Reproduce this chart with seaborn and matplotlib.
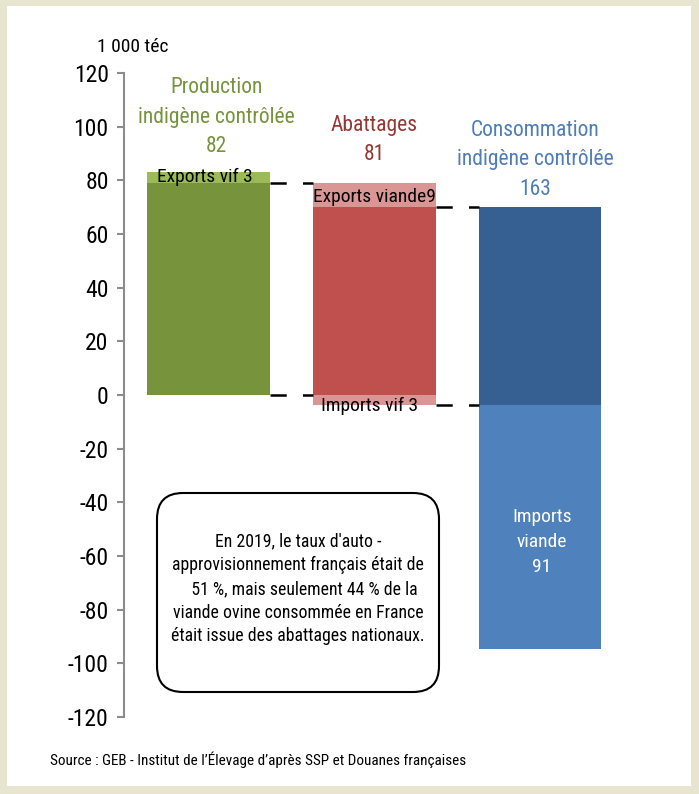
import numpy as np
import pandas as pd
import matplotlib
matplotlib.use("Agg")
import matplotlib.pyplot as plt
import matplotlib.patches as mpatches
import matplotlib.transforms as mtransforms
from matplotlib import font_manager
import seaborn as sns

# ---- data (1 000 téc) ----
categories = ["Production", "Abattages", "Consommation"]
production_net = 79      # dark green
exports_vif = 4          # light green on top (labelled 3)
imports_vif = 3.7        # pink below zero (abattages, labelled 3)
abattages_net = 70       # red
exports_viande = 9       # pink on top of red
imports_viande = 91      # light blue, below
titles = ["Production\nindigène contrôlée\n82", "Abattages\n81",
          "Consommation\nindigène contrôlée\n163"]
seg_labels = ["Exports vif 3", "Exports viande9", "Imports vif 3",
              "Imports\nviande\n91"]
yticks = list(range(-120, 121, 20))

c_green, c_lgreen = "#77933C", "#9BBB59"
c_red, c_pink = "#C0504D", "#DA9694"
c_dblue, c_lblue = "#376092", "#4F81BD"
t_green, t_red, t_blue = "#77933C", "#953735", "#4F7DB9"

sns.set_theme(style="white")

# pick a condensed/narrow regular font if one is installed
def _is_regular(f):
    return f.style == "normal" and f.weight in (400, "normal", "regular", "book")

def _is_narrow(f):
    st = f.stretch
    if isinstance(st, str):
        return st in ("condensed", "semi-condensed", "extra-condensed", "ultra-condensed")
    return st <= 87

pref = ["Liberation Sans Narrow", "Roboto Condensed", "Open Sans Condensed",
        "Noto Sans", "DejaVu Sans", "Roboto", "Open Sans"]
cands = [f for f in font_manager.fontManager.ttflist
         if _is_regular(f) and (_is_narrow(f) or "Narrow" in f.name or "Condensed" in f.name)]
cands.sort(key=lambda f: pref.index(f.name) if f.name in pref else len(pref))
if cands:
    FONT_PATH = cands[0].fname
    SC = 1.0
else:
    FONT_PATH = font_manager.findfont("Liberation Sans")
    SC = 0.84

def fp(size):
    return font_manager.FontProperties(fname=FONT_PATH, size=size * SC)

fig = plt.figure(figsize=(6.99, 7.94), dpi=100)
fig.patch.set_facecolor("#E7E5D0")
fig.patches.append(mpatches.Rectangle((7 / 699, 8 / 794), 684 / 699, 780 / 794,
                                      transform=fig.transFigure, facecolor="white",
                                      edgecolor="none", zorder=0))
ax = fig.add_axes([124 / 699, 77 / 794, (623 - 124) / 699, (717 - 73) / 794])
ax.set_zorder(2)
ax.set_facecolor("none")

W = 0.74
segments = [
    # category, bottom, height, colour
    (categories[0], 0, production_net, c_green),
    (categories[0], production_net, exports_vif, c_lgreen),
    (categories[1], 0, -imports_vif, c_pink),
    (categories[1], 0, abattages_net, c_red),
    (categories[1], abattages_net, exports_viande, c_pink),
    (categories[2], -imports_vif, abattages_net + imports_vif, c_dblue),
    (categories[2], -imports_vif, -imports_viande, c_lblue),
]
for cat, bottom, height, col in segments:
    df = pd.DataFrame({"cat": [cat], "val": [height]})
    sns.barplot(data=df, x="cat", y="val", order=categories, bottom=bottom,
                color=col, saturation=1, width=W, errorbar=None, ax=ax,
                edgecolor="none", linewidth=0)

# dashed connectors
h = W / 2
dash = dict(color="black", lw=1.8, dashes=(6.5, 6.5), solid_capstyle="butt")
for y in [production_net, 0]:
    ax.plot([0 + h, 1 - h], [y, y], **dash)
for y in [abattages_net, -imports_vif]:
    ax.plot([1 + h, 2 - h], [y, y], **dash)

ax.set_xlim(-0.509, 2.5)
ax.set_ylim(-120, 120)
ax.set_yticks(yticks)
ax.set_yticklabels([str(t) for t in yticks])
for lab in ax.get_yticklabels():
    lab.set_fontproperties(fp(17))
    lab.set_color("black")
ax.set_xticks([])
ax.set_xlabel("")
ax.set_ylabel("")
for s in ["top", "right", "bottom"]:
    ax.spines[s].set_visible(False)
ax.spines["left"].set_color("#8C8C8C")
ax.spines["left"].set_linewidth(1.5)
ax.tick_params(axis="y", left=True, length=5, width=1.5, color="#8C8C8C", pad=6)

# titles
ax.text(0.05, 103.6, titles[0], ha="center", va="center", color=t_green,
        fontproperties=fp(15.5), linespacing=1.53)
ax.text(1.0, 95.0, titles[1], ha="center", va="center", color=t_red,
        fontproperties=fp(15.5), linespacing=1.53)
ax.text(1.97, 87.6, titles[2], ha="center", va="center", color=t_blue,
        fontproperties=fp(15.5), linespacing=1.53)

ax.text(-0.02, 81.3, seg_labels[0], ha="center", va="center",
        fontproperties=fp(14), color="black")
ax.text(1.0, 73.9, seg_labels[1], ha="center", va="center",
        fontproperties=fp(14), color="black")
ax.text(0.97, -3.9, seg_labels[2], ha="center", va="center",
        fontproperties=fp(14), color="black")
ax.text(2.01, -54.8, seg_labels[3], ha="center", va="center",
        fontproperties=fp(14), color="white", linespacing=1.5)

fig.text(97 / 699, 1 - 47 / 794, "1 000 téc", ha="left", va="center",
         fontproperties=fp(14), color="black")

# rounded box
box = mpatches.FancyBboxPatch((157, 794 - 692), 439 - 157, 692 - 493,
                              boxstyle="round,pad=0,rounding_size=26",
                              transform=mtransforms.IdentityTransform(),
                              facecolor="white", edgecolor="black", lw=1.5, zorder=5)
fig.patches.append(box)
fig.text(298 / 699, 1 - 589 / 794,
         "En 2019, le taux d'auto -\napprovisionnement français était de\n"
         "   51 %, mais seulement 44 % de la\nviande ovine consommée en France\n"
         "était issue des abattages nationaux.",
         ha="center", va="center", fontproperties=fp(12.8), linespacing=1.4,
         zorder=6, color="black")

fig.text(50 / 699, 1 - 760 / 794,
         "Source : GEB - Institut de l\u2019Élevage d\u2019après SSP et Douanes françaises",
         ha="left", va="center", fontproperties=fp(10.9), color="black")

fig.savefig("out.png", dpi=100)
